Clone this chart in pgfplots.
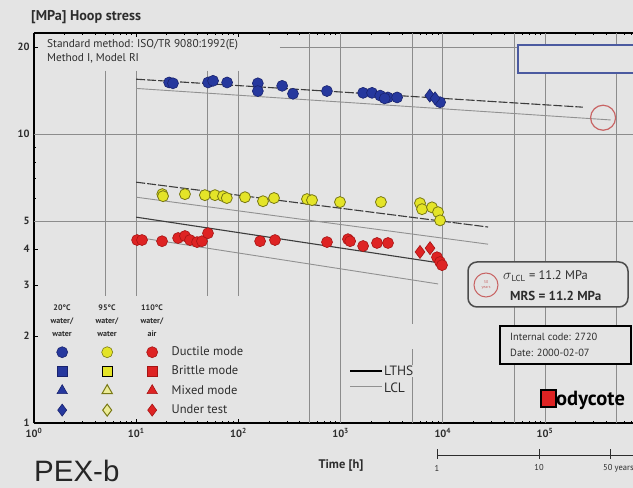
\documentclass[border=0pt]{standalone}
\usepackage{fontspec}
\setmainfont{PT Sans}
\newfontfamily\pexfont{Liberation Sans}
\usepackage{pgfplots}
\usepackage{pgfplotstable}
\pgfplotsset{compat=1.18}
\definecolor{bg}{RGB}{228,228,228}
\definecolor{gridc}{RGB}{140,140,140}
\definecolor{bluef}{RGB}{38,56,158}
\definecolor{blued}{RGB}{25,35,110}
\definecolor{yelf}{RGB}{228,228,40}
\definecolor{yell}{RGB}{236,236,150}
\definecolor{yeld}{RGB}{120,120,20}
\definecolor{redf}{RGB}{222,35,35}
\definecolor{redd}{RGB}{165,20,20}
\definecolor{boxblue}{RGB}{75,90,160}
\definecolor{ringc}{RGB}{200,100,100}
\definecolor{txt}{RGB}{45,45,45}
\definecolor{lthsc}{RGB}{60,60,60}
\definecolor{lclc}{RGB}{145,145,145}

\pgfplotstableread{
t s
21.0 15.1
22.9 15.0
50.5 15.1
56.5 15.3
77.5 15.1
155 15.0
155 14.1
268 14.7
342 13.8
735 14.1
1660 13.9
2030 13.9
2440 13.6
2900 13.4
3570 13.4
2700 13.3
9400 12.9
}\blueduct
\pgfplotstableread{
t s
7460 13.6
8400 13.3
}\bluetest
\pgfplotstableread{
t s
18.0 6.20
18.3 6.10
30 6.20
47 6.15
59 6.15
70.7 6.10
77 6.01
116 6.05
174 5.86
223 6.01
469 5.96
525 5.91
986 5.82
2480 5.82
5980 5.77
6260 5.50
7840 5.58
8980 5.37
9400 5.03
}\yelduct
\pgfplotstableread{
t s
10.2 4.30
11.4 4.30
17.9 4.26
25.7 4.37
30 4.44
33.6 4.30
39.4 4.23
44 4.26
50.4 4.54
163 4.26
228 4.30
736 4.23
1180 4.33
1240 4.26
1660 4.10
2270 4.20
2910 4.20
8770 3.75
9390 3.61
9820 3.52
}\redduct
\pgfplotstableread{
t s
5980 3.91
7500 4.03
}\redtest

\begin{document}
\begin{tikzpicture}
\begin{scope}[x=1pt,y=-1pt,shift={(-34pt,423pt)}]
  \fill[bg] (0,0) rectangle (633,488);
\end{scope}
\begin{axis}[
  at={(0pt,0pt)}, anchor=south west,
  scale only axis, width=599pt, height=390pt,
  xmode=log, ymode=log,
  xmin=1, xmax=7.26e5, ymin=1, ymax=22.4,
  axis x line*=box, axis y line*=left,
  xtick pos=both, ytick pos=left,
  axis line style={line width=1.8pt, black},
  tick align=inside,
  major tick length=4pt, minor tick length=2.5pt,
  every tick/.style={black, line width=1pt},
  xtick={1,10,100,1000,10000,100000},
  xticklabels={10\textsuperscript{0},10\textsuperscript{1},10\textsuperscript{2},10\textsuperscript{3},10\textsuperscript{4},10\textsuperscript{5}},
  minor xtick={2,3,4,5,6,7,8,9,20,30,40,50,60,70,80,90,200,300,400,500,600,700,800,900,2000,3000,4000,5000,6000,7000,8000,9000,20000,30000,40000,50000,60000,70000,80000,90000,200000,300000,400000,500000,600000,700000},
  ytick={1,2,3,4,5,10,20},
  yticklabels={1,2,3,4,5,10,20},
  minor ytick={6,7,8,9},
  ticklabel style={font=\fontsize{10.5}{12}\selectfont\bfseries, text=txt},
  xticklabel style={yshift=-2pt},
  yticklabel style={xshift=-1pt},
  legend columns=3,
  legend cell align=left,
  legend style={at={(axis description cs:0.0379,0.1956)}, anchor=north west,
    draw=none, fill=none, inner sep=0pt, outer sep=0pt,
    row sep=8.3pt, column sep=0pt,
    nodes={inner sep=0pt, font=\fontsize{12.5}{13}\selectfont, text=txt}},
  legend image code/.code={\draw[#1] plot[only marks] coordinates {(0pt,0pt)};},
]
% legend images
\addlegendimage{mark=*, mark size=5.5pt, mark options={fill=bluef,draw=blued,line width=0.6pt}}
\addlegendentry{\hbox to 34pt{}}
\addlegendimage{mark=*, mark size=5.5pt, mark options={fill=yelf,draw=yeld,line width=0.6pt}}
\addlegendentry{\hbox to 34pt{}}
\addlegendimage{mark=*, mark size=5.5pt, mark options={fill=redf,draw=redd,line width=0.6pt}}
\addlegendentry{\hspace*{14pt}Ductile mode}
\addlegendimage{mark=square*, mark size=5pt, mark options={fill=bluef,draw=blued,line width=0.6pt}}
\addlegendentry{\hbox to 34pt{}}
\addlegendimage{mark=square*, mark size=5pt, mark options={fill=yelf,draw=black,line width=1pt}}
\addlegendentry{\hbox to 34pt{}}
\addlegendimage{mark=square*, mark size=5pt, mark options={fill=redf,draw=redd,line width=0.6pt}}
\addlegendentry{\hspace*{14pt}Brittle mode}
\addlegendimage{mark=triangle*, mark size=6pt, mark options={fill=bluef,draw=blued,line width=0.6pt}}
\addlegendentry{\hbox to 34pt{}}
\addlegendimage{mark=triangle*, mark size=6pt, mark options={fill=yell,draw=yeld,line width=1pt}}
\addlegendentry{\hbox to 34pt{}}
\addlegendimage{mark=triangle*, mark size=6pt, mark options={fill=redf,draw=redd,line width=0.6pt}}
\addlegendentry{\hspace*{14pt}Mixed mode}
\addlegendimage{mark=diamond*, mark size=6pt, mark options={fill=bluef,draw=blued,line width=0.6pt}}
\addlegendentry{\hbox to 34pt{}}
\addlegendimage{mark=diamond*, mark size=6pt, mark options={fill=yell,draw=yeld,line width=1pt}}
\addlegendentry{\hbox to 34pt{}}
\addlegendimage{mark=diamond*, mark size=6pt, mark options={fill=redf,draw=redd,line width=0.6pt}}
\addlegendentry{\hspace*{14pt}Under test}

% grid lines
\draw[gridc, line width=1pt] (axis cs:1,10) -- (axis cs:7.26e5,10);
\draw[gridc, line width=1pt] (axis cs:1,5) -- (axis cs:7.26e5,5);
\draw[gridc, line width=1pt] (axis cs:255,20) -- (axis cs:7.26e5,20);
\foreach \xv in {5,10,50,100}{
  \edef\tmp{\noexpand\draw[gridc, line width=1pt] (axis cs:\xv,16.6) -- (axis cs:\xv,2.75);}\tmp
}
\foreach \xv in {500,1000,10000,50000,100000,500000}{
  \edef\tmp{\noexpand\draw[gridc, line width=1pt] (axis cs:\xv,1) -- (axis cs:\xv,22.4);}\tmp
}
\draw[gridc, line width=1pt] (axis cs:5000,22.4) -- (axis cs:5000,2.2);
\draw[gridc, line width=1pt] (axis cs:5000,1.8) -- (axis cs:5000,1);

% regression lines
\addplot[lclc, line width=0.9pt] coordinates {(10,14.4) (438000,11.2)};
\addplot[lthsc, line width=1.1pt, dash pattern=on 9pt off 2pt] coordinates {(10,15.5) (235000,12.4)};
\addplot[lclc, line width=0.9pt] coordinates {(10,6.05) (27700,4.16)};
\addplot[lthsc, line width=1.1pt, dash pattern=on 9pt off 2pt] coordinates {(10,6.82) (27700,4.77)};
\addplot[lclc, line width=0.9pt] coordinates {(10,4.40) (9000,3.03)};
\addplot[lthsc, line width=1.1pt] coordinates {(10,5.16) (9400,3.58)};

% data
\addplot[only marks, mark=*, mark size=5.5pt, mark options={fill=bluef,draw=blued,line width=0.6pt}] table {\blueduct};
\addplot[only marks, mark=diamond*, mark size=6.5pt, mark options={fill=bluef,draw=blued,line width=0.6pt}] table {\bluetest};
\addplot[only marks, mark=*, mark size=5.5pt, mark options={fill=yelf,draw=yeld,line width=0.8pt}] table {\yelduct};
\addplot[only marks, mark=*, mark size=5.5pt, mark options={fill=redf,draw=redd,line width=0.6pt}] table {\redduct};
\addplot[only marks, mark=diamond*, mark size=6.5pt, mark options={fill=redf,draw=redd,line width=0.6pt}] table {\redtest};
% 50-year LCL ring
\addplot[only marks, mark=o, mark size=12.5pt, mark options={draw=ringc,line width=1.2pt}] coordinates {(3.7e5,11.4)};
\end{axis}

\begin{scope}[x=1pt,y=-1pt,shift={(-34pt,423pt)}, every node/.style={text=txt}]
  % titles
  \node[anchor=west, font=\fontsize{14.2}{15}\selectfont\bfseries, inner sep=0pt] at (31,17) {[MPa] Hoop stress};
  \node[anchor=north west, align=left, font=\fontsize{11.3}{14}\selectfont, inner sep=0pt] at (47,39) {Standard method: ISO/TR 9080:1992(E)\\Method I, Model RI};
  \node[anchor=base west, font=\pexfont\fontsize{29.5}{31}\selectfont, text=black!85, inner sep=0pt] at (34,481) {PEX-b};
  \node[font=\fontsize{12.5}{14}\selectfont\bfseries] at (341,465) {Time [h]};
  % legend header
  \foreach \xx/\tt in {62/{20°C\\water/\\water}, 107/{95°C\\water/\\water}, 152/{110°C\\water/\\air}}{
    \node[align=center, font=\fontsize{8}{13}\selectfont\bfseries, inner sep=0pt] at (\xx,321) {\tt};
  }
  % LTHS / LCL key
  \draw[black, line width=1.4pt] (350,371) -- (382,371);
  \draw[lclc, line width=1pt] (350,387) -- (382,387);
  \node[anchor=west, fill=bg, inner sep=1pt, font=\fontsize{13.5}{14}\selectfont] at (383,371) {LTHS};
  \node[anchor=west, fill=bg, inner sep=1pt, font=\fontsize{13.5}{14}\selectfont] at (383,388) {LCL};
  % top right blue box
  \draw[boxblue, line width=1.6pt, fill=bg] (518,45) rectangle (645,73);
  % sigma box
  \draw[black!70, line width=1.5pt, fill=bg, rounded corners=9pt] (468,262) rectangle (628,307);
  \draw[ringc, line width=1pt] (486,285) circle (12);
  \node[font=\fontsize{4}{4.5}\selectfont, text=ringc, align=center, inner sep=0pt] at (486,285) {50\\years};
  \node[anchor=west, font=\fontsize{12.5}{14}\selectfont, inner sep=0pt] at (503,276) {{\Large$\sigma$}\textsubscript{LCL} = 11.2 MPa};
  \node[anchor=west, font=\fontsize{13}{14}\selectfont\bfseries, inner sep=0pt] at (510,296) {MRS = 11.2 MPa};
  % internal code box
  \draw[black, line width=1.3pt, fill=bg] (500,326) rectangle (631,364);
  \node[anchor=west, font=\fontsize{10.4}{12}\selectfont, inner sep=0pt] at (510,337) {Internal code: 2720};
  \node[anchor=west, font=\fontsize{10.4}{12}\selectfont, inner sep=0pt] at (510,353) {Date: 2000-02-07};
  % Bodycote logo
  \draw[black, fill=redf, line width=1.2pt] (541,390) rectangle (556,407);
  \node[anchor=west, font=\fontsize{20.5}{21}\selectfont\bfseries, text=black, inner sep=0pt] at (556,400) {odycote};
  % years scale
  \draw[txt, line width=1pt] (437,455) -- (645,455);
  \foreach \yx in {437,539,610}{ \draw[txt, line width=1pt] (\yx,449) -- (\yx,459); }
  \node[font=\fontsize{8.5}{9}\selectfont] at (437,468) {1};
  \node[font=\fontsize{8.5}{9}\selectfont] at (539,468) {10};
  \node[anchor=west, font=\fontsize{8.5}{9}\selectfont, inner sep=0pt] at (603,468) {50 years};
\end{scope}
\pgfresetboundingbox
\begin{scope}[x=1pt,y=-1pt,shift={(-34pt,423pt)}]
  \path[use as bounding box] (0,0) rectangle (633,488);
\end{scope}
\end{tikzpicture}
\end{document}
